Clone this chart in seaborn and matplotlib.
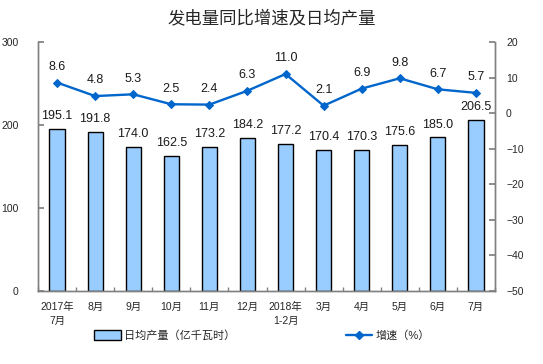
import matplotlib
matplotlib.use("Agg")
import matplotlib.pyplot as plt
import seaborn as sns
import pandas as pd
import numpy as np
from matplotlib.lines import Line2D
from matplotlib.patches import Patch

sns.set_theme(style="white")
plt.rcParams['font.family'] = ['Liberation Sans', 'Noto Sans CJK SC', 'DejaVu Sans']

categories = ["2017年\n7月", "8月", "9月", "10月", "11月", "12月", "2018年\n1-2月",
              "3月", "4月", "5月", "6月", "7月"]
daily_output = [195.1, 191.8, 174.0, 162.5, 173.2, 184.2, 177.2, 170.4, 170.3, 175.6, 185.0, 206.5]
growth = [8.6, 4.8, 5.3, 2.5, 2.4, 6.3, 11.0, 2.1, 6.9, 9.8, 6.7, 5.7]

df = pd.DataFrame({"cat": categories, "out": daily_output, "g": growth})

fig = plt.figure(figsize=(5.43, 3.64), dpi=100)
ax = fig.add_axes([0.07, 0.2005, 0.8416, 0.6841])

sns.barplot(data=df, x="cat", y="out", ax=ax, color="#99CCFF", edgecolor="black",
            linewidth=1.0, width=0.4, saturation=1)
ax.set_ylim(0, 300)
ax.set_yticks([0, 100, 200, 300])
ax.set_xlim(-0.5, len(categories) - 0.5)
ax.set_xlabel("")
ax.set_ylabel("")

for i, v in enumerate(daily_output):
    ax.annotate(f"{v:.1f}", (i, v), xytext=(0, 5), textcoords="offset points",
                ha="center", va="bottom", fontsize=9, color="#1a1a1a")

ax2 = ax.twinx()
sns.lineplot(x=np.arange(len(categories)), y=growth, ax=ax2, color="#0066CC",
             linewidth=1.7, marker="D", markersize=4.5, markeredgecolor="#0066CC")
ax2.set_ylim(-50, 20)
ax2.set_yticks(range(-50, 21, 10))
ax2.set_xlim(-0.5, len(categories) - 0.5)
for i, v in enumerate(growth):
    ax2.annotate(f"{v:.1f}", (i, v), xytext=(0, 7), textcoords="offset points",
                 ha="center", va="bottom", fontsize=9, color="#1a1a1a")

for a in (ax, ax2):
    for s in ("left", "right", "bottom"):
        a.spines[s].set_color("#808080")
        a.spines[s].set_linewidth(1.0)
    a.spines["top"].set_visible(False)

ax.tick_params(axis="y", direction="in", length=4, color="#808080", left=True,
               labelsize=7.5, pad=14)
ax2.tick_params(axis="y", direction="in", length=4, color="#808080", right=True,
                labelsize=7.5, pad=8)
ax.tick_params(axis="x", length=0, labelsize=7.5, pad=8)
ax.set_xticks(np.arange(len(categories)))
ax.set_xticklabels(categories, linespacing=1.5)
ax.set_xticks(np.arange(len(categories) + 1) - 0.5, minor=True)
ax.tick_params(axis="x", which="minor", direction="in", length=3, color="#808080", bottom=True)

fig.suptitle("发电量同比增速及日均产量", x=0.5, y=0.975, fontsize=12.5, va="top",
             family=['Noto Sans CJK SC'])

h1 = Patch(facecolor="#99CCFF", edgecolor="black", linewidth=1.0)
h2 = Line2D([0], [0], color="#0066CC", linewidth=1.7, marker="D", markersize=4.5)
fig.legend([h1], ["日均产量（亿千瓦时）"], loc="center left", bbox_to_anchor=(0.155, 0.078),
           frameon=False, fontsize=8, handlelength=2.4, handleheight=1.0, handletextpad=0.3)
fig.legend([h2], ["增速（%）"], loc="center left", bbox_to_anchor=(0.618, 0.078),
           frameon=False, fontsize=8, handlelength=2.4, handletextpad=0.3)

fig.savefig("out.png", dpi=100)
